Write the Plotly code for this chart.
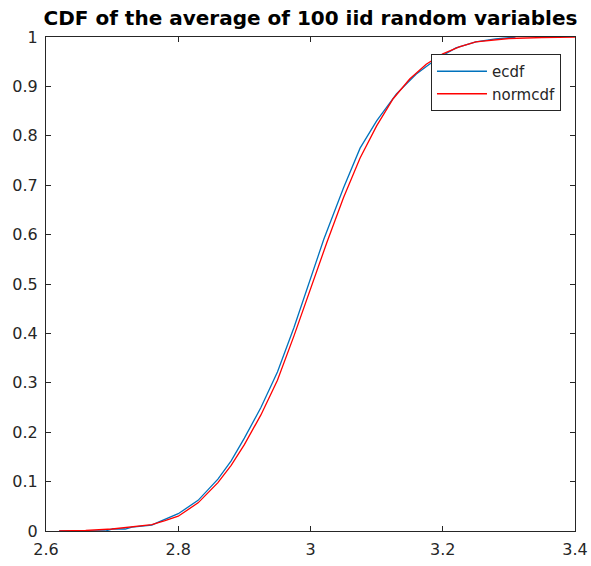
import plotly.graph_objects as go

# normcdf curve
norm_x = [2.62, 2.66, 2.70, 2.73, 2.76, 2.78, 2.80, 2.83, 2.86, 2.88, 2.90, 2.925, 2.95, 2.975,
          3.00, 3.025, 3.05, 3.075, 3.10, 3.125, 3.15, 3.175, 3.20, 3.225, 3.25, 3.28, 3.30, 3.35, 3.40]
norm_y = [0.0, 0.001, 0.004, 0.008, 0.013, 0.021, 0.030, 0.057, 0.098, 0.133, 0.175, 0.235, 0.305, 0.395,
          0.490, 0.585, 0.675, 0.755, 0.820, 0.875, 0.915, 0.945, 0.966, 0.980, 0.990, 0.995, 0.997, 0.999, 1.0]

# ecdf curve
ecdf_x = [2.62, 2.69, 2.70, 2.72, 2.73, 2.76, 2.77, 2.80, 2.83, 2.86, 2.88, 2.90, 2.925, 2.95, 2.975,
          3.00, 3.02, 3.05, 3.075, 3.10, 3.13, 3.16, 3.19, 3.22, 3.25, 3.28, 3.31]
ecdf_y = [0.0, 0.0, 0.004, 0.004, 0.008, 0.012, 0.018, 0.035, 0.062, 0.105, 0.142, 0.188, 0.250, 0.322, 0.412,
          0.510, 0.590, 0.695, 0.775, 0.830, 0.885, 0.925, 0.955, 0.978, 0.990, 0.996, 1.0]

x_ticks = [2.6, 2.8, 3.0, 3.2, 3.4]
x_labels = ["2.6", "2.8", "3", "3.2", "3.4"]
y_ticks = [0, 0.1, 0.2, 0.3, 0.4, 0.5, 0.6, 0.7, 0.8, 0.9, 1]
y_labels = ["0", "0.1", "0.2", "0.3", "0.4", "0.5", "0.6", "0.7", "0.8", "0.9", "1"]

fig = go.Figure()
fig.add_trace(go.Scatter(x=ecdf_x, y=ecdf_y, mode="lines", name="ecdf",
                         line=dict(color="#0072BD", width=1.3)))
fig.add_trace(go.Scatter(x=norm_x, y=norm_y, mode="lines", name="normcdf",
                         line=dict(color="#FF0000", width=1.3)))

axis_common = dict(showline=True, linecolor="#262626", linewidth=1, mirror="ticks",
                   ticks="inside", ticklen=5, tickcolor="#262626", showgrid=False, zeroline=False,
                   automargin=False, ticklabelstandoff=4,
                   tickfont=dict(family="DejaVu Sans", size=16, color="#262626"))

fig.update_layout(
    width=591, height=566,
    margin=dict(l=46, r=16, t=37, b=35),
    paper_bgcolor="white", plot_bgcolor="white",
    title=dict(text="<b>CDF of the average of 100 iid random variables</b>",
               x=(310.5 / 591), xanchor="center", y=1 - 18 / 566, yanchor="middle",
               font=dict(family="DejaVu Sans", size=20, color="black")),
    xaxis=dict(range=[2.6, 3.4], tickvals=x_ticks, ticktext=x_labels, **axis_common),
    yaxis=dict(range=[0, 1], tickvals=y_ticks, ticktext=y_labels, **axis_common),
    legend=dict(x=0.9735, y=0.9656, xanchor="right", yanchor="top",
                bgcolor="white", bordercolor="#262626", borderwidth=1,
                font=dict(family="DejaVu Sans", size=15, color="#262626"),
                itemwidth=50, tracegroupgap=0),
    showlegend=True,
)

fig.write_html("out.html")
